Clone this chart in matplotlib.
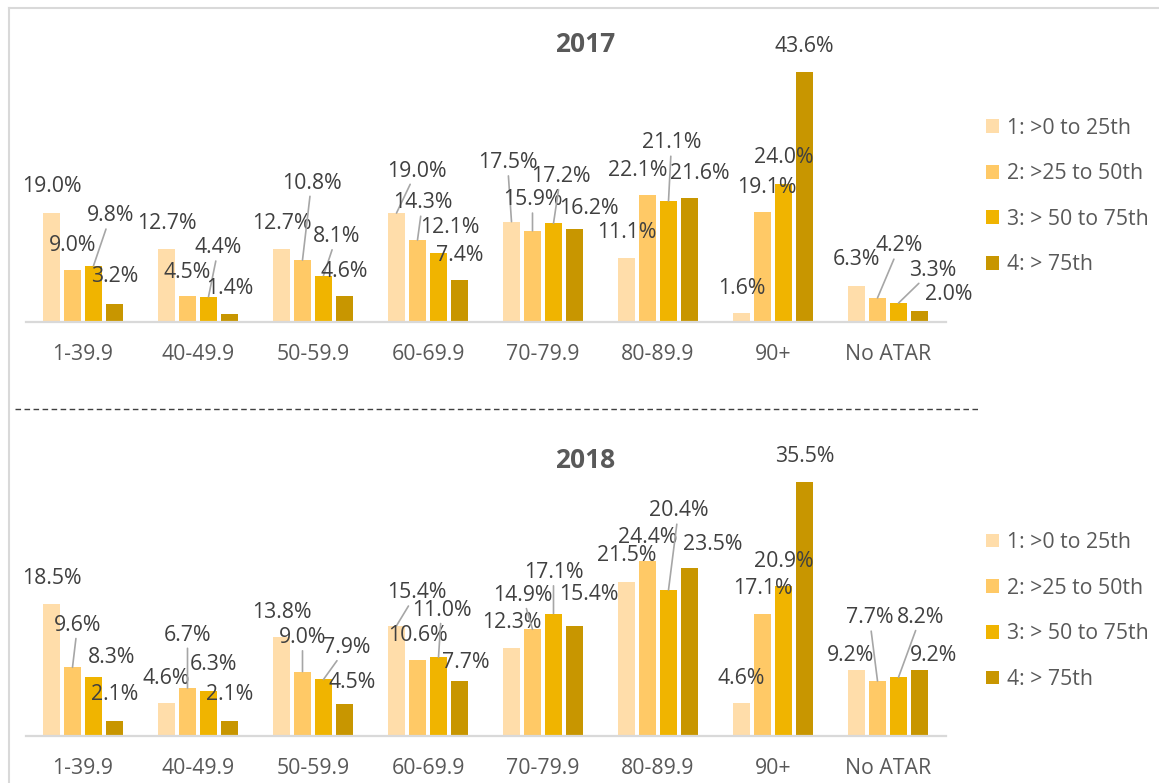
import matplotlib
matplotlib.use("Agg")
import matplotlib.pyplot as plt
import numpy as np
from matplotlib.lines import Line2D

plt.rcParams['font.family'] = ['Open Sans', 'DejaVu Sans']

# ---------------- data ----------------
categories = ["1-39.9", "40-49.9", "50-59.9", "60-69.9", "70-79.9", "80-89.9", "90+", "No ATAR"]
series_names = ["1: >0 to 25th", "2: >25 to 50th", "3: > 50 to 75th", "4: > 75th"]

s1_2017 = [19.0, 12.7, 12.7, 19.0, 17.5, 11.1, 1.6, 6.3]
s2_2017 = [9.0, 4.5, 10.8, 14.3, 15.9, 22.1, 19.1, 4.2]
s3_2017 = [9.8, 4.4, 8.1, 12.1, 17.2, 21.1, 24.0, 3.3]
s4_2017 = [3.2, 1.4, 4.6, 7.4, 16.2, 21.6, 43.6, 2.0]

s1_2018 = [18.5, 4.6, 13.8, 15.4, 12.3, 21.5, 4.6, 9.2]
s2_2018 = [9.6, 6.7, 9.0, 10.6, 14.9, 24.4, 17.1, 7.7]
s3_2018 = [8.3, 6.3, 7.9, 11.0, 17.1, 20.4, 20.9, 8.2]
s4_2018 = [2.1, 2.1, 4.5, 7.7, 15.4, 23.5, 35.5, 9.2]

# ---------------- styling / label placement (pixels: dx, dy up, leader) ----------------
colors = ["#FFDDAA", "#FFC966", "#F0B400", "#C89600"]
text_color = "#404040"
axis_text_color = "#595959"

lab_2017 = [
    [(0, 27, 0), (0, 26, 0), (0, 26, 0), (20, 42, 1), (-4, 59, 1), (0, 26, 0), (0, 24, 0), (0, 26, 0)],
    [(0, 25, 0), (0, 24, 0), (9, 77, 1), (5, 37, 1), (0, 31, 1), (-10, 25, 0), (4, 25, 0), (22, 52, 1)],
    [(17, 50, 1), (10, 49, 1), (13, 39, 1), (11, 25, 0), (7, 47, 1), (3, 58, 1), (0, 27, 0), (34, 33, 1)],
    [(0, 27, 0), (0, 25, 0), (0, 24, 0), (0, 24, 0), (14, 21, 0), (10, 25, 0), (0, 25, 0), (29, 16, 0)],
]
lab_2018 = [
    [(0, 25, 0), (0, 25, 0), (0, 25, 0), (20, 33, 1), (0, 25, 0), (0, 27, 0), (0, 25, 0), (-6, 15, 0)],
    [(5, 42, 1), (0, 53, 1), (0, 34, 1), (0, 25, 0), (-10, 34, 1), (0, 24, 0), (0, 25, 0), (-8, 63, 1)],
    [(18, 19, 0), (5, 26, 0), (23, 32, 1), (3, 47, 1), (0, 41, 1), (10, 79, 1), (0, 25, 0), (22, 60, 1)],
    [(0, 26, 0), (0, 26, 0), (8, 21, 0), (6, 18, 0), (14, 31, 0), (23, 23, 0), (0, 25, 0), (14, 15, 0)],
]

W, H = 1159, 783
fig = plt.figure(figsize=(W / 100, H / 100), dpi=100)

def px_axes(left, right, top, bottom):
    return fig.add_axes([left / W, 1 - bottom / H, (right - left) / W, (bottom - top) / H])

slot = 21 / 115.0
bw = 16.5 / 115.0
x = np.arange(len(categories))
FS = 15.3

def draw_panel(ax, series, labels, ymax, title, title_y, leg_center):
    handles = []
    for k, vals in enumerate(series):
        off = (k - 1.5) * slot
        b = ax.bar(x + off, vals, width=bw, color=colors[k], label=series_names[k], zorder=2)
        handles.append(b)
        for i, v in enumerate(vals):
            dx, dy, leader = labels[k][i]
            ap = None
            if leader:
                ap = dict(arrowstyle='-', color='#A6A6A6', lw=1.2, shrinkA=0, shrinkB=0)
            ax.annotate(f"{v:.1f}%", xy=(x[i] + off, v), xytext=(dx, dy),
                        textcoords='offset pixels', ha='center', va='center',
                        fontsize=FS, color=text_color, arrowprops=ap, annotation_clip=False)
    ax.set_xlim(-0.5, len(categories) - 0.5)
    ax.set_ylim(0, ymax)
    for s in ['top', 'right', 'left']:
        ax.spines[s].set_visible(False)
    ax.spines['bottom'].set_color('#D9D9D9')
    ax.spines['bottom'].set_linewidth(1.6)
    ax.set_yticks([])
    ax.set_xticks(x)
    ax.set_xticklabels(categories, fontsize=FS, color=axis_text_color)
    ax.tick_params(axis='x', length=0, pad=15.5)
    ax.patch.set_alpha(0)
    fig.text(585 / W, 1 - title_y / H, title, ha='center', va='center',
             fontsize=19, fontweight='bold', color=axis_text_color)
    ax.legend(handles=handles, loc='center left',
              bbox_to_anchor=(986 / W, 1 - leg_center / H), bbox_transform=fig.transFigure,
              frameon=False, fontsize=FS, labelcolor=axis_text_color,
              handlelength=0.62, handleheight=0.62, handletextpad=0.35, labelspacing=1.16,
              borderaxespad=0, borderpad=0)

ax1 = px_axes(25.5, 945.5, 30, 322)
draw_panel(ax1, [s1_2017, s2_2017, s3_2017, s4_2017], lab_2017, 292 / 5.735, "2017", 45, 196.5)

ax2 = px_axes(25.5, 945.5, 440, 736)
draw_panel(ax2, [s1_2018, s2_2018, s3_2018, s4_2018], lab_2018, 296 / 7.16, "2018", 460, 611)

# separator and chart border
fig.add_artist(Line2D([15 / W, 980 / W], [1 - 409 / H, 1 - 409 / H], transform=fig.transFigure,
                      color='#404040', lw=1, linestyle=(0, (4, 2.5))))
fig.add_artist(Line2D([9 / W, 9 / W], [0, 1 - 8 / H], transform=fig.transFigure,
                      color='#D9D9D9', lw=1.5))
fig.add_artist(Line2D([9 / W, 1], [1 - 8 / H, 1 - 8 / H], transform=fig.transFigure,
                      color='#D9D9D9', lw=1.5))

fig.savefig("out.png", dpi=100, facecolor='white')
